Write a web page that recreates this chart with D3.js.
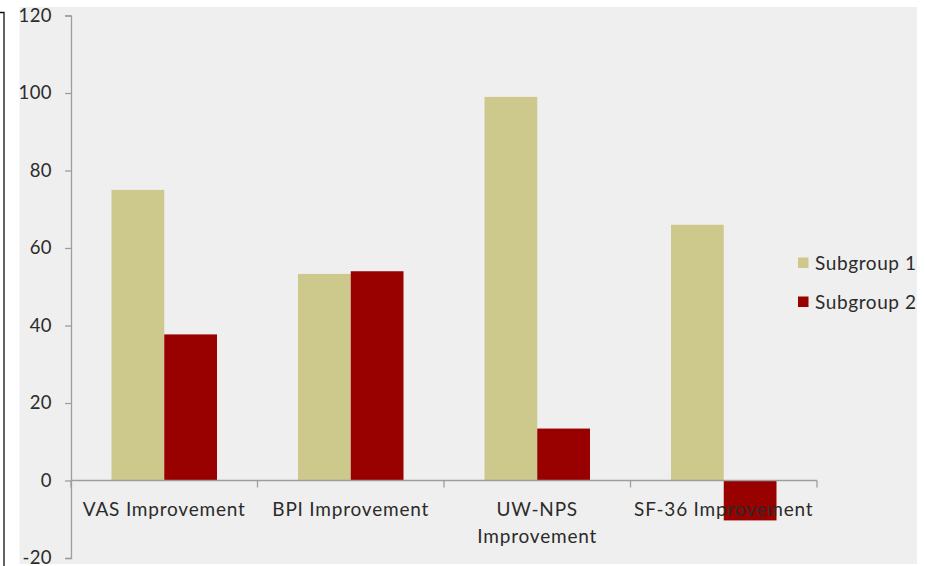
<!DOCTYPE html>
<html>
<head>
<meta charset="utf-8">
<script src="https://cdn.jsdelivr.net/npm/d3@7"></script>
<style>
  html, body { margin: 0; padding: 0; background: #ffffff; }
  svg { display: block; }
</style>
</head>
<body>
<svg id="chart" width="926" height="566"></svg>
<script>
// Improvement scores per measure, two subgroups
const categories = ["VAS Improvement", "BPI Improvement", "UW-NPS Improvement", "SF-36 Improvement"];
const categoryLines = [["VAS Improvement"], ["BPI Improvement"], ["UW-NPS", "Improvement"], ["SF-36 Improvement"]];
const seriesNames = ["Subgroup 1", "Subgroup 2"];
const subgroup1 = [75, 53.3, 99, 66];
const subgroup2 = [37.7, 54, 13.4, -10.3];
const yTicks = [-20, 0, 20, 40, 60, 80, 100, 120];
const colors = ["#cdc98d", "#990000"];

const svg = d3.select("#chart");
const W = 926, H = 566;
const FONT = "Lato, 'Open Sans', sans-serif";
const TEXT_COLOR = "#2b2b2b";

// page frame: white surround, grey plot card, thin bracket line on the left
svg.append("rect").attr("x", 0).attr("y", 0).attr("width", W).attr("height", H).attr("fill", "#ffffff");
svg.append("rect").attr("x", 19.5).attr("y", 7).attr("width", 897.5).attr("height", 557).attr("fill", "#efefef");
svg.append("path").attr("d", "M0,12.5 H4 V566").attr("fill", "none").attr("stroke", "#111").attr("stroke-width", 1.3);

const plotLeft = 71, plotRight = 817, plotTop = 15.5, plotBottom = 558;

const y = d3.scaleLinear().domain([-20, 120]).range([plotBottom, plotTop]);
const x = d3.scaleBand().domain(categories).range([plotLeft, plotRight]).paddingInner(0).paddingOuter(0);
const inner = d3.scaleBand().domain(seriesNames).range([40.5, x.bandwidth() - 40.5]);

const rows = categories.map((c, i) => ({ cat: c, values: [subgroup1[i], subgroup2[i]] }));

// bars
const groups = svg.append("g").selectAll("g").data(rows).join("g")
  .attr("transform", d => `translate(${x(d.cat)},0)`);
groups.selectAll("rect").data(d => d.values.map((v, k) => ({ v, k })))
  .join("rect")
  .attr("x", d => inner(seriesNames[d.k]))
  .attr("width", inner.bandwidth())
  .attr("y", d => y(Math.max(0, d.v)))
  .attr("height", d => Math.abs(y(d.v) - y(0)))
  .attr("fill", d => colors[d.k]);

const axisColor = "#9e9e9e";

// y axis (plain hyphen for negatives)
const yAxis = svg.append("g").attr("transform", `translate(${plotLeft},0)`)
  .call(d3.axisLeft(y).tickValues(yTicks).tickSize(6).tickPadding(13).tickFormat(d => String(d)));
yAxis.select(".domain").attr("stroke", axisColor).attr("stroke-width", 1.3);
yAxis.selectAll(".tick line").attr("stroke", axisColor).attr("stroke-width", 1.3);
yAxis.selectAll(".tick text").attr("font-family", FONT).attr("font-size", 18.5)
  .attr("letter-spacing", 0.4).attr("fill", TEXT_COLOR);

// x axis along zero, with ticks on category boundaries
const xAxisG = svg.append("g").attr("transform", `translate(0,${y(0)})`);
xAxisG.append("line").attr("x1", plotLeft).attr("x2", plotRight).attr("y1", 0).attr("y2", 0)
  .attr("stroke", axisColor).attr("stroke-width", 1.3);
const boundaries = categories.map(c => x(c)).concat([plotRight]);
xAxisG.selectAll("line.tk").data(boundaries).join("line").attr("class", "tk")
  .attr("x1", d => d).attr("x2", d => d).attr("y1", 0).attr("y2", 7)
  .attr("stroke", axisColor).attr("stroke-width", 1.3);

// category labels drawn over the bars
const labels = svg.append("g").selectAll("text").data(categories).join("text")
  .attr("x", d => x(d) + x.bandwidth() / 2)
  .attr("y", y(0) + 35.5)
  .attr("text-anchor", "middle")
  .attr("letter-spacing", 0.8)
  .attr("font-family", FONT).attr("font-size", 19).attr("fill", TEXT_COLOR);
labels.selectAll("tspan").data((d, i) => categoryLines[i]).join("tspan")
  .attr("x", function () { return d3.select(this.parentNode).attr("x"); })
  .attr("dy", (d, i) => i === 0 ? 0 : 27)
  .text(d => d);

// legend
const legend = svg.append("g").selectAll("g").data(seriesNames).join("g")
  .attr("transform", (d, i) => `translate(798,${263 + i * 39})`);
legend.append("rect").attr("x", 0).attr("y", -5.5).attr("width", 10.5).attr("height", 10.5)
  .attr("fill", (d, i) => colors[i]);
legend.append("text").attr("x", 17).attr("y", 7)
  .attr("letter-spacing", 0.6)
  .attr("font-family", FONT).attr("font-size", 19).attr("fill", TEXT_COLOR)
  .text(d => d);
</script>
</body>
</html>
